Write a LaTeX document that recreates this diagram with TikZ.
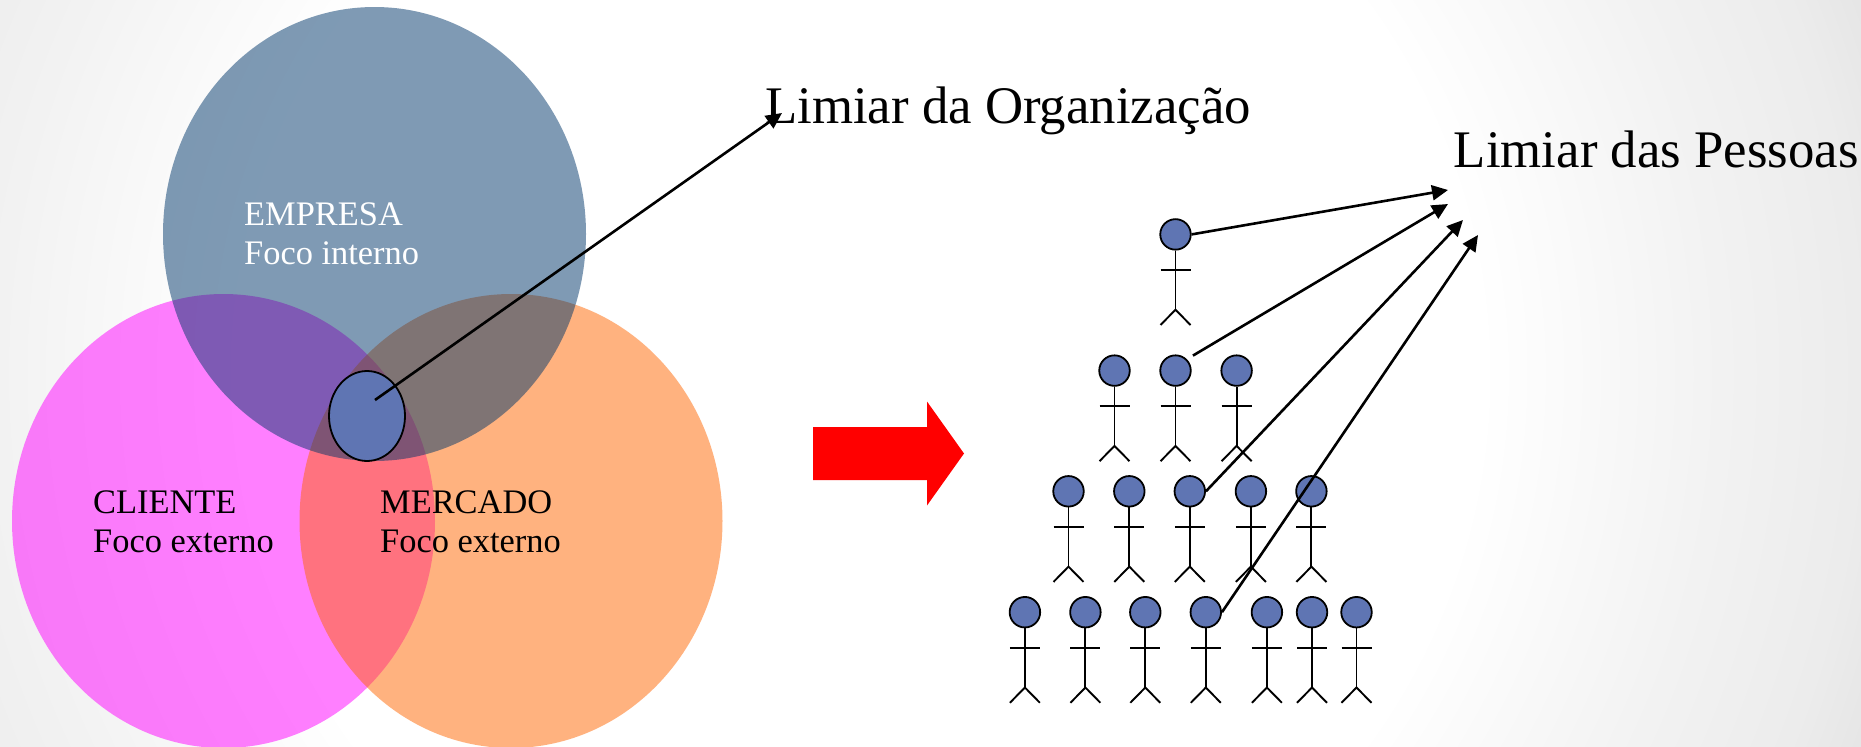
\documentclass[tikz,border=0pt]{standalone}
\usepackage{fontspec}
\setmainfont{Liberation Serif}
\usetikzlibrary{arrows.meta,shapes.geometric}

\definecolor{corEmpresa}{HTML}{00376B}
\definecolor{corCliente}{HTML}{FF00FF}
\definecolor{corMercado}{HTML}{FF6600}
\definecolor{corCabeca}{HTML}{5F75B3}

\pgfdeclareradialshading{fundo}{\pgfpointorigin}{color(0bp)=(white); color(14.5bp)=(white); color(20bp)=(black!5); color(23.4bp)=(black!7.5); color(25bp)=(black!10); color(50bp)=(black!10)}

\tikzset{
	circulo/.style={ellipse, inner sep=0pt, minimum width=423, minimum height=454, fill opacity=0.5},
	rotulo/.style={anchor=base west, inner sep=0pt, align=left, font=\fontsize{34.4}{39}\selectfont},
	limiar/.style={anchor=base west, inner sep=0pt, font=\fontsize{52.8}{60}\selectfont},
	cabeca/.style={circle, draw, line width=1.8, fill=corCabeca, inner sep=0pt, minimum size=30.5},
	corpo/.style={line width=1.9},
	seta/.style={line width=2.6, -{Triangle[length=16, width=15]}}
}

\begin{document}
\begin{tikzpicture}[x=1pt, y=-1pt]
	\useasboundingbox (0,0) rectangle (1861,747);
	\begin{scope}
		\clip (0,0) rectangle (1861,747);
		\shade[shading=fundo] (860,373.5) circle (1070);
	\end{scope}

	\node[circulo, fill=corCliente] (cliente) at (223.5,521) {};
	\node[circulo, fill=corMercado] (mercado) at (511,521) {};
	\node[circulo, fill=corEmpresa] (empresa) at (374.5,234) {};
	\node[ellipse, draw, line width=1.8, fill=corCabeca, inner sep=0pt, minimum width=76, minimum height=90] (nucleo) at (367,416) {};

	\node[rotulo, text=white] (txtEmpresa) at (244,264.4) {EMPRESA\\Foco interno};
	\node[rotulo] (txtCliente) at (93,552.6) {CLIENTE\\Foco externo};
	\node[rotulo] (txtMercado) at (380,552.6) {MERCADO\\Foco externo};

	\fill[red] (813,427) -- (927,427) -- (927,401.5) -- (964,453.5) -- (927,505.5) -- (927,480) -- (813,480) -- cycle;

	\node[limiar] (limOrg) at (765,123) {Limiar da Organização};
	\node[limiar] (limPes) at (1453.7,167.7) {Limiar das Pessoas};

	\foreach \nome/\x/\y in {11/1175.5/234.4,
			21/1114.5/370.6, 22/1175.5/370.6, 23/1236.6/370.6,
			31/1068.5/491.3, 32/1129.3/491.3, 33/1189.8/491.3, 34/1250.9/491.3, 35/1311.4/491.3,
			41/1024.9/612.2, 42/1085.4/612.2, 43/1145.3/612.2, 44/1205.8/612.2, 45/1266.9/612.2, 46/1312/612.2, 47/1356.5/612.2} {
		\node[cabeca] (p\nome) at (\x,\y) {};
		\draw[corpo] (p\nome.south) -- (\x,\y+75.3);
		\draw[corpo] (\x-15,\y+35.6) -- (\x+15,\y+35.6);
		\draw[corpo] (\x-15,\y+90.6) -- (\x,\y+75.3) -- (\x+15,\y+90.6);
	}

	\coordinate (inicioOrg) at (375,400);
	\coordinate (alvoOrg) at (782,113);
	\coordinate (alvo1) at (1448,190);
	\coordinate (alvo2) at (1448,204);
	\coordinate (alvo3) at (1463,220);
	\coordinate (alvo4) at (1478,235);

	\draw[seta] (inicioOrg) -- (alvoOrg);
	\draw[seta] (p11.east) -- (alvo1);
	\draw[seta, shorten <=7] (p22.45) -- (alvo2);
	\draw[seta] (p33.east) -- (alvo3);
	\draw[seta] (p44.east) -- (alvo4);
\end{tikzpicture}
\end{document}
